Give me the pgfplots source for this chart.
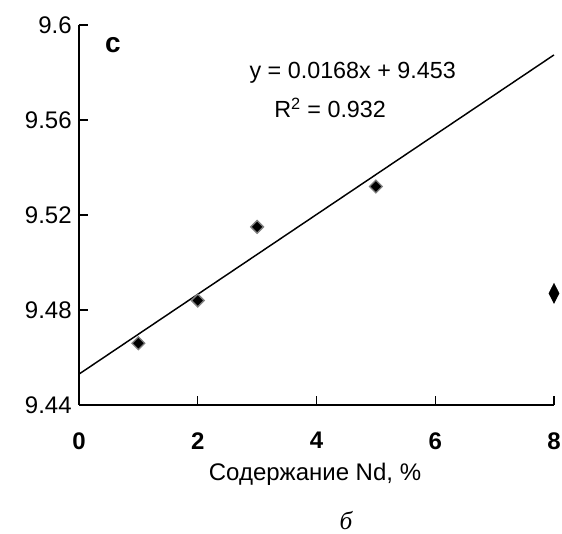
\documentclass[border=0pt]{standalone}
\usepackage{fontspec}
\setmainfont{Liberation Sans}
\newfontfamily\serifit{Liberation Serif}
\usepackage{pgfplots}
\pgfplotsset{compat=1.18}

\begin{document}
\begin{tikzpicture}
\useasboundingbox (-59.25pt,-96.75pt) rectangle (362.25pt,303.75pt);
\begin{axis}[at={(0,0)},anchor=south west,
  scale only axis,width=356.25pt,height=285pt,
  xmin=0,xmax=8,ymin=9.44,ymax=9.6,
  axis x line=bottom,axis y line=left,
  axis line style={-,line width=1.1pt},
  tick align=inside,major tick length=6.5pt,
  tick style={line width=1.1pt,black},
  xtick={0,2,4,6,8},
  ytick={9.44,9.48,9.52,9.56,9.6},
  yticklabels={9.44,9.48,9.52,9.56,9.6},
  /pgf/number format/assume math mode=true,
  ticklabel style={font=\fontsize{18}{18}\selectfont},
  xticklabel style={font=\fontsize{18}{18}\selectfont\bfseries,yshift=-17pt},
  yticklabel style={xshift=-2pt},
  clip=false]
\addplot[black,line width=1.1pt] coordinates {(0,9.453)(8,9.5874)};
\addplot[only marks,mark=square*,mark size=3.4pt,
  mark options={rotate=45,fill=black,draw=gray,line width=1pt}]
  coordinates {(1,9.466)(2,9.484)(3,9.515)(5,9.532)};
\addplot[only marks,mark=diamond*,mark size=7.5pt,
  mark options={xscale=0.67,fill=black,draw=black}]
  coordinates {(8,9.487)};
\node[font=\fontsize{21}{21}\selectfont\bfseries] at (axis cs:0.57,9.5916) {c};
\node[font=\fontsize{17.5}{17.5}\selectfont] at (axis cs:4.61,9.5798) {y = 0.0168x + 9.453};
\node[font=\fontsize{17.5}{17.5}\selectfont] at (axis cs:4.23,9.565) {R\textsuperscript{2} = 0.932};
\end{axis}
\node[font=\fontsize{18}{18}\selectfont] at (177pt,-51.75pt) {Содержание Nd, \%};
\node[font=\fontsize{19}{19}\selectfont\serifit\itshape] at (200.25pt,-87pt) {б};
\end{tikzpicture}
\end{document}
